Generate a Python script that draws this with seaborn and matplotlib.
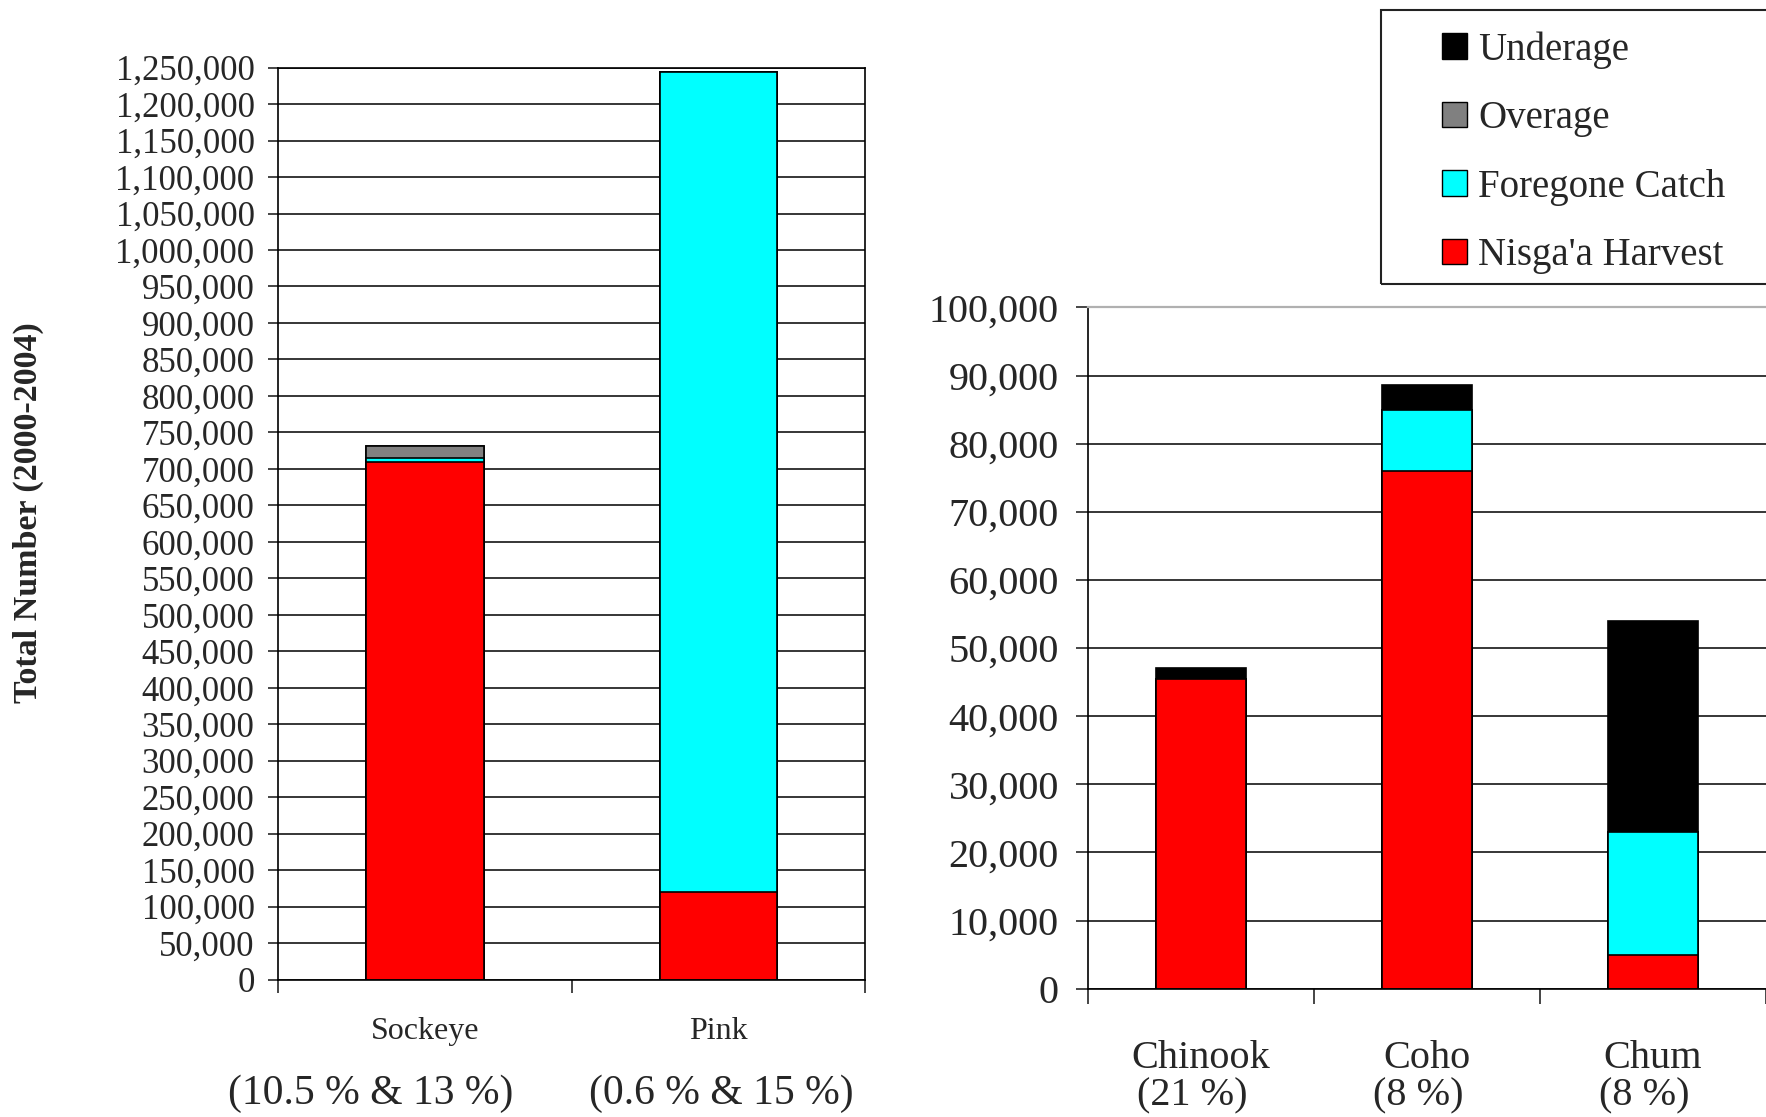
import matplotlib
matplotlib.use("Agg")
import matplotlib.pyplot as plt
import matplotlib.transforms as mtransforms
from matplotlib.patches import Patch, Rectangle
from matplotlib.ticker import FuncFormatter, MultipleLocator
import numpy as np
import seaborn as sns

# left panel: sockeye and pink
big_species = ["Sockeye", "Pink"]
big_notes = ["(10.5 % & 13 %)", "(0.6 % & 15 %)"]
big_harvest = [710000, 120000]
big_foregone = [5000, 1124000]
big_overage = [16000, 0]
big_underage = [0, 0]

# right panel: chinook, coho, chum
small_species = ["Chinook", "Coho", "Chum"]
small_notes = ["(21 %)", "(8 %)", "(8 %)"]
small_harvest = [45500, 76000, 5000]
small_foregone = [0, 9000, 18000]
small_overage = [0, 0, 0]
small_underage = [1500, 3600, 30900]

series_names = ["Nisga'a Harvest", "Foregone Catch", "Overage", "Underage"]
series_colors = ["#ff0000", "#00ffff", "#808080", "#000000"]

sns.set_style("white")
plt.rcParams["font.family"] = ["Liberation Serif", "DejaVu Serif"]

fig = plt.figure(figsize=(17.66, 11.17), dpi=100)
ax1 = fig.add_axes([0.1575, 0.1230, 0.3323, 0.8165])
ax2 = fig.add_axes([0.6161, 0.1149, 0.3839, 0.6099])


def stacked(ax, cats, layers):
    # draw cumulative totals from the top layer down so each segment shows
    cum = np.cumsum(np.array(layers), axis=0)
    for i in range(len(layers) - 1, -1, -1):
        sns.barplot(x=cats, y=cum[i], color=series_colors[i], width=0.4,
                    edgecolor="black", linewidth=1.2, errorbar=None,
                    saturation=1, ax=ax)


stacked(ax1, big_species, [big_harvest, big_foregone, big_overage, big_underage])
stacked(ax2, small_species, [small_harvest, small_foregone, small_overage, small_underage])

fmt = FuncFormatter(lambda v, p: f"{v:,.0f}")

# left axes
ax1.set_ylim(0, 1250000)
ax1.set_xlim(-0.5, 1.5)
ax1.yaxis.set_major_locator(MultipleLocator(50000))
ax1.yaxis.set_major_formatter(fmt)
ax1.set_xticks([-0.5, 0.5, 1.5])
ax1.set_xticklabels([])
ax1.tick_params(axis="y", labelsize=25, length=7, width=1.2, pad=10, direction="out", left=True)
ax1.tick_params(axis="x", length=9, width=1.2, direction="out", bottom=True)
ax1.yaxis.grid(True, color="black", linewidth=1.1)
ax1.set_axisbelow(True)
for s in ax1.spines.values():
    s.set_color("black")
    s.set_linewidth(1.2)
ax1.set_xlabel("")
ax1.set_ylabel("")

# right axes
ax2.set_ylim(0, 100000)
ax2.set_xlim(-0.5, 2.5)
ax2.yaxis.set_major_locator(MultipleLocator(10000))
ax2.yaxis.set_major_formatter(fmt)
ax2.set_xticks([-0.5, 0.5, 1.5, 2.5])
ax2.set_xticklabels([])
ax2.tick_params(axis="y", labelsize=29, length=9, width=1.2, pad=12, direction="out", left=True)
ax2.tick_params(axis="x", length=11, width=1.2, direction="out", bottom=True)
ax2.yaxis.grid(True, color="black", linewidth=1.1)
ax2.set_axisbelow(True)
ax2.spines["right"].set_visible(False)
ax2.spines["top"].set_color("#b0b0b0")
ax2.spines["top"].set_linewidth(1.6)
for side in ["left", "bottom"]:
    ax2.spines[side].set_color("black")
    ax2.spines[side].set_linewidth(1.2)
ax2.set_xlabel("")
ax2.set_ylabel("")

# category labels under the bars (notes sit a little off-centre, as in the source)
tr1 = mtransforms.blended_transform_factory(ax1.transData, fig.transFigure)
big_note_shift = [-0.185, 0.01]
for i, (name, note) in enumerate(zip(big_species, big_notes)):
    ax1.text(i, 0.0768, name, transform=tr1, ha="center", va="center", fontsize=23)
    ax1.text(i + big_note_shift[i], 0.021, note, transform=tr1, ha="center",
             va="center", fontsize=30)

tr2 = mtransforms.blended_transform_factory(ax2.transData, fig.transFigure)
for i, (name, note) in enumerate(zip(small_species, small_notes)):
    ax2.text(i, 0.052, name, transform=tr2, ha="center", va="center", fontsize=29)
    ax2.text(i - 0.04, 0.019, note, transform=tr2, ha="center", va="center", fontsize=29)

fig.text(0.016, 0.541, "Total Number (2000-2004)", rotation=90, ha="center",
         va="center", fontsize=24.5, fontweight="bold")

# legend, frame runs off the right edge
fig.patches.append(Rectangle((0.782, 0.746), 0.3, 0.245, transform=fig.transFigure,
                             fill=False, edgecolor="#222222", linewidth=1.5))
handles = [Patch(facecolor=series_colors[i], edgecolor="black", label=series_names[i])
           for i in range(3, -1, -1)]
fig.legend(handles=handles, loc="upper left", bbox_to_anchor=(0.8165, 0.972),
           frameon=False, fontsize=28, borderpad=0, borderaxespad=0,
           handlelength=0.64, handleheight=0.64, handletextpad=0.3, labelspacing=0.81)

fig.savefig("out.png", dpi=100)
